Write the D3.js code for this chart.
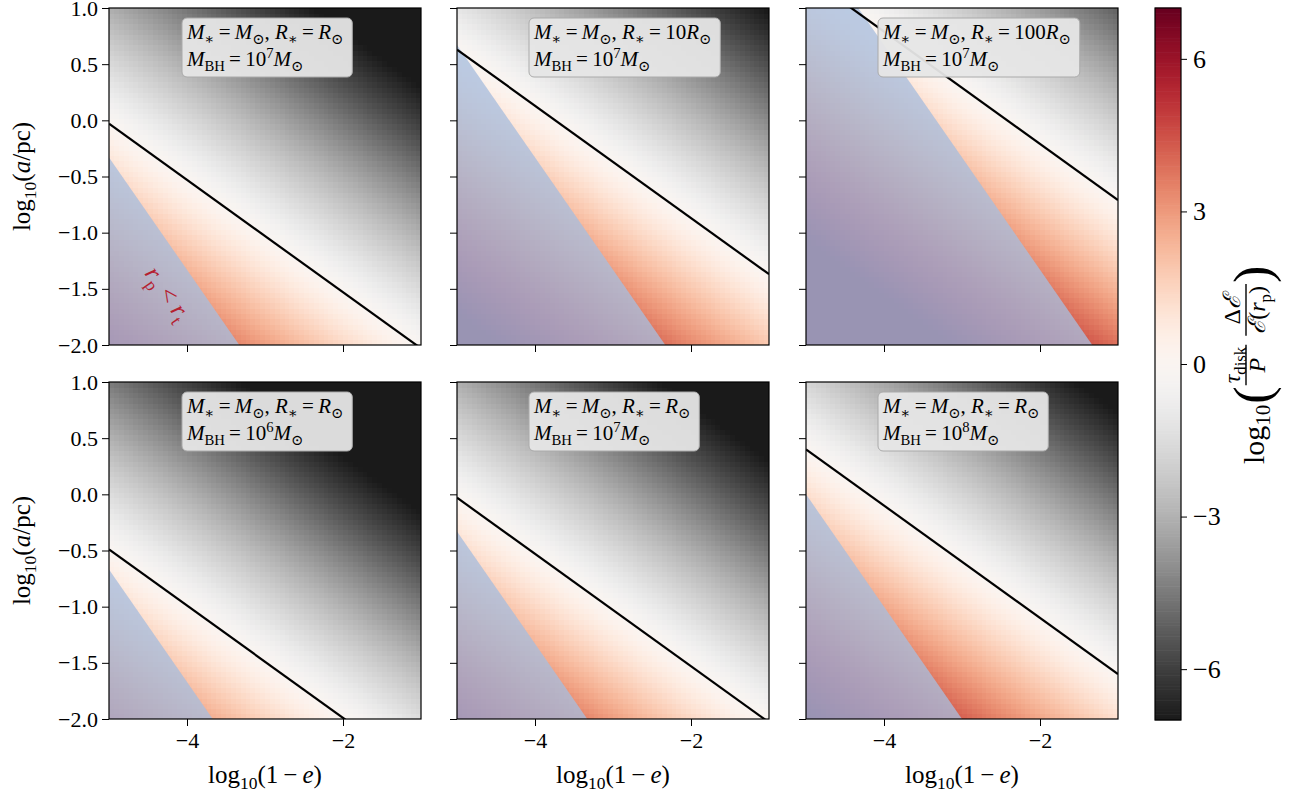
<!DOCTYPE html>
<html>
<head>
<meta charset="utf-8">
<script src="https://cdn.jsdelivr.net/npm/d3@7"></script>
<style>
  body { margin: 0; background: #fff; }
  svg text { font-family: "Liberation Serif", "DejaVu Serif", serif; }
</style>
</head>
<body>
<svg id="chart" width="1291" height="795"></svg>
<script>
// values
const xDomain = [-5, -1];          // log10(1-e)
const yDomain = [-2, 1];           // log10(a/pc)
const xTicks = [-4, -2];
const yTicks = [-2, -1.5, -1, -0.5, 0, 0.5, 1];
const cbTicks = [-6, -3, 0, 3, 6];
const cbRange = [-7, 7];

// panel labels
const rStar = ["", "10", "100", "", "", ""];
const mbhExp = ["7", "7", "7", "6", "7", "8"];

// zero-level line (y at x=-5 and at x=-1) for each panel
const zeroLeft  = [-0.03, 0.63, 1.29, -0.49, -0.03, 0.40];
const zeroRight = [-2.03, -1.37, -0.71, -2.49, -2.03, -1.60];
// r_p < r_t boundary (y at x=-5 and at x=-1)
const disruptLeft  = [-0.33, 0.67, 1.67, -0.67, -0.33, 0.00];
const disruptRight = [-4.33, -3.33, -2.33, -4.67, -4.33, -4.00];
// steepness of the colour field (dex per dex in a)
const gradient = [3, 3, 3, 3, 3, 3];

const W = 312, H = 337;
const lefts = [109, 457, 806];
const tops = [8, 382];
const nCells = 64;
const thin = "\u2009";

const svg = d3.select("#chart");
const x = d3.scaleLinear().domain(xDomain).range([0, W]);
const y = d3.scaleLinear().domain(yDomain).range([H, 0]);
const color = d3.scaleSequential(t => d3.interpolateRdGy(1 - t)).domain(cbRange).clamp(true);

const dx = (xDomain[1] - xDomain[0]) / nCells;
const dy = (yDomain[1] - yDomain[0]) / nCells;

// little helper for math text with sub/superscripts
function mathText(sel, parts, size) {
    parts.forEach(p => {
        const t = sel.append("tspan").text(p.t);
        if (p.i) t.style("font-style", "italic");
        if (p.f) t.style("font-family", p.f);
        if (p.sub) t.attr("dy", size * 0.25).style("font-size", (size * 0.7) + "px");
        if (p.sup) t.attr("dy", -size * 0.36).style("font-size", (size * 0.7) + "px");
        if (p.back) t.attr("dy", p.back);
    });
}

for (let k = 0; k < 6; k++) {
    const row = Math.floor(k / 3), col = k % 3;
    const g = svg.append("g").attr("transform", "translate(" + lefts[col] + "," + tops[row] + ")");

    g.append("clipPath").attr("id", "clip" + k)
        .append("rect").attr("width", W).attr("height", H);

    const plot = g.append("g").attr("clip-path", "url(#clip" + k + ")");

    // heat map cells
    const cells = [];
    for (let i = 0; i < nCells; i++) {
        for (let j = 0; j < nCells; j++) {
            const cx = xDomain[0] + (i + 0.5) * dx;
            const cy = yDomain[0] + (j + 0.5) * dy;
            const yz = zeroLeft[k] + (zeroRight[k] - zeroLeft[k]) * (cx - xDomain[0]) / (xDomain[1] - xDomain[0]);
            cells.push({x0: xDomain[0] + i * dx, y1: yDomain[0] + (j + 1) * dy, v: gradient[k] * (yz - cy)});
        }
    }
    plot.selectAll("rect.cell")
        .data(cells)
        .join("rect")
        .attr("class", "cell")
        .attr("x", d => x(d.x0))
        .attr("y", d => y(d.y1))
        .attr("width", x(dx) - x(0) + 0.6)
        .attr("height", y(0) - y(dy) + 0.6)
        .attr("fill", d => color(d.v))
        .attr("shape-rendering", "crispEdges");

    // r_p < r_t region
    const poly = [[xDomain[0], disruptLeft[k]], [xDomain[1], disruptRight[k]],
                  [xDomain[1], -10], [xDomain[0], -10]];
    plot.append("path")
        .attr("d", d3.line().x(d => x(d[0])).y(d => y(d[1]))(poly) + "Z")
        .attr("fill", "rgb(168,190,222)")
        .attr("fill-opacity", 0.78);

    // zero contour
    plot.append("line")
        .attr("x1", x(xDomain[0])).attr("y1", y(zeroLeft[k]))
        .attr("x2", x(xDomain[1])).attr("y2", y(zeroRight[k]))
        .attr("stroke", "black").attr("stroke-width", 2.2);

    if (k === 0) {
        const as = 25;
        const ann = plot.append("text")
            .attr("transform", "translate(52,290)rotate(55)")
            .attr("text-anchor", "middle")
            .attr("fill", "#b5202f")
            .style("font-size", as + "px");
        mathText(ann, [{t: "r", i: true}, {t: "p", sub: true}, {t: " < ", back: -as * 0.25},
                       {t: "r", i: true}, {t: "t", sub: true}], as);
    }

    // label box
    const box = g.append("g").attr("transform", "translate(" + (col === 0 ? 73 : 72) + ",10)");
    const boxRect = box.append("rect");
    const fs = 21;
    const t1 = box.append("text").attr("x", 5).attr("y", 21).style("font-size", fs + "px");
    mathText(t1, [{t: "M", i: true}, {t: "∗", sub: true}, {t: thin + "=" + thin, back: -fs * 0.25},
                  {t: "M", i: true}, {t: "⊙", sub: true}, {t: ", ", back: -fs * 0.25},
                  {t: "R", i: true}, {t: "∗", sub: true}, {t: thin + "=" + thin + rStar[k], back: -fs * 0.25},
                  {t: "R", i: true}, {t: "⊙", sub: true}], fs);
    const t2 = box.append("text").attr("x", 5).attr("y", 48).style("font-size", fs + "px");
    mathText(t2, [{t: "M", i: true}, {t: "BH", sub: true}, {t: thin + "=" + thin + "10", back: -fs * 0.25},
                  {t: mbhExp[k], sup: true}, {t: "M", i: true, back: fs * 0.36},
                  {t: "⊙", sub: true}], fs);
    const bw = Math.max(t1.node().getComputedTextLength(), t2.node().getComputedTextLength()) + 14;
    boxRect.attr("width", bw).attr("height", 59).attr("rx", 5)
        .attr("fill", "#e6e6e6").attr("fill-opacity", 0.95)
        .attr("stroke", "#aaaaaa").attr("stroke-width", 1);

    // frame
    g.append("rect").attr("width", W).attr("height", H)
        .attr("fill", "none").attr("stroke", "black").attr("stroke-width", 1.2);

    // axes
    const xa = g.append("g").attr("transform", "translate(0," + H + ")")
        .call(d3.axisBottom(x).tickValues(xTicks).tickSize(7).tickPadding(6)
              .tickFormat(row === 1 ? (d => d3.format("")(d).replace("-", "−")) : ""));
    const ya = g.append("g")
        .call(d3.axisLeft(y).tickValues(yTicks).tickSize(7).tickPadding(4)
              .tickFormat(col === 0 ? (d => d3.format(".1f")(d).replace("-", "−")) : ""));
    [xa, ya].forEach(a => {
        a.select(".domain").remove();
        a.selectAll(".tick line").attr("stroke", "black").attr("stroke-width", 1);
        a.selectAll(".tick text").attr("fill", "black")
            .style("font-family", "'Liberation Serif', serif").style("font-size", "22px");
    });

    if (row === 1) {
        const xl = svg.append("text")
            .attr("x", lefts[col] + W / 2).attr("y", 783)
            .attr("text-anchor", "middle").style("font-size", "25px");
        mathText(xl, [{t: "log"}, {t: "10", sub: true}, {t: "(1" + thin + "−" + thin, back: -25 * 0.25},
                      {t: "e", i: true}, {t: ")"}], 25);
    }
    if (col === 0) {
        const yl = svg.append("text")
            .attr("transform", "translate(30," + (tops[row] + H / 2) + ")rotate(-90)")
            .attr("text-anchor", "middle").style("font-size", "25px");
        mathText(yl, [{t: "log"}, {t: "10", sub: true}, {t: "(", back: -25 * 0.25},
                      {t: "a", i: true}, {t: "/pc)"}], 25);
    }
}

// colour bar
const cbX = 1155, cbW = 26, cbTop = 8, cbBottom = 720;
const cbScale = d3.scaleLinear().domain(cbRange).range([cbBottom, cbTop]);
const nBands = 256;
const bands = d3.range(nBands).map(i => cbRange[0] + (i + 0.5) * (cbRange[1] - cbRange[0]) / nBands);
const bandH = (cbBottom - cbTop) / nBands;
const cb = svg.append("g");
cb.selectAll("rect")
    .data(bands)
    .join("rect")
    .attr("x", cbX)
    .attr("y", d => cbScale(d) - bandH / 2 - 0.3)
    .attr("width", cbW)
    .attr("height", bandH + 0.6)
    .attr("fill", d => color(d));
cb.append("rect").attr("x", cbX).attr("y", cbTop).attr("width", cbW).attr("height", cbBottom - cbTop)
    .attr("fill", "none").attr("stroke", "black").attr("stroke-width", 1.2);
const cba = svg.append("g").attr("transform", "translate(" + (cbX + cbW) + ",0)")
    .call(d3.axisRight(cbScale).tickValues(cbTicks).tickSize(6).tickPadding(6)
          .tickFormat(d => String(d).replace("-", "−")));
cba.select(".domain").remove();
cba.selectAll(".tick line").attr("stroke", "black");
cba.selectAll(".tick text").attr("fill", "black")
    .style("font-family", "'Liberation Serif', serif").style("font-size", "26px");

// colour bar label, laid out piece by piece along the rotated axis
const lab = svg.append("g").attr("transform", "translate(1264,364)rotate(-90)");
let pos = -100;
function piece(txt, size, yOff, italic) {
    const t = lab.append("text").attr("x", pos).attr("y", yOff).style("font-size", size + "px").text(txt);
    if (italic) t.style("font-style", "italic");
    return t;
}
function adv(t, extra) { pos += t.node().getComputedTextLength() + (extra || 0); }
adv(piece("log", 30, 0), 0);
adv(piece("10", 21, 6), 1);
adv(piece("(", 52, 6), 1);
const scriptE = "'DejaVu Serif', serif";
function fraction(numParts, denParts) {
    const fsz = 24;
    const num = lab.append("text").attr("y", -24).style("font-size", fsz + "px");
    mathText(num, numParts, fsz);
    const den = lab.append("text").attr("y", 1).style("font-size", fsz + "px");
    mathText(den, denParts, fsz);
    const wn = num.node().getComputedTextLength(), wd = den.node().getComputedTextLength();
    const w = Math.max(wn, wd) + 4;
    num.attr("x", pos + (w - wn) / 2);
    den.attr("x", pos + (w - wd) / 2);
    lab.append("line").attr("x1", pos).attr("x2", pos + w).attr("y1", -18).attr("y2", -18)
        .attr("stroke", "black").attr("stroke-width", 1.4);
    pos += w;
}
fraction([{t: "τ", i: true}, {t: "disk", sub: true}], [{t: "P", i: true}]);
pos += 9;
fraction([{t: "Δ"}, {t: "ℰ", i: true, f: scriptE}],
         [{t: "ℰ", i: true, f: scriptE}, {t: "("}, {t: "r", i: true}, {t: "p", sub: true}, {t: ")", back: -24 * 0.25}]);
pos += 1;
piece(")", 52, 6);
</script>
</body>
</html>
